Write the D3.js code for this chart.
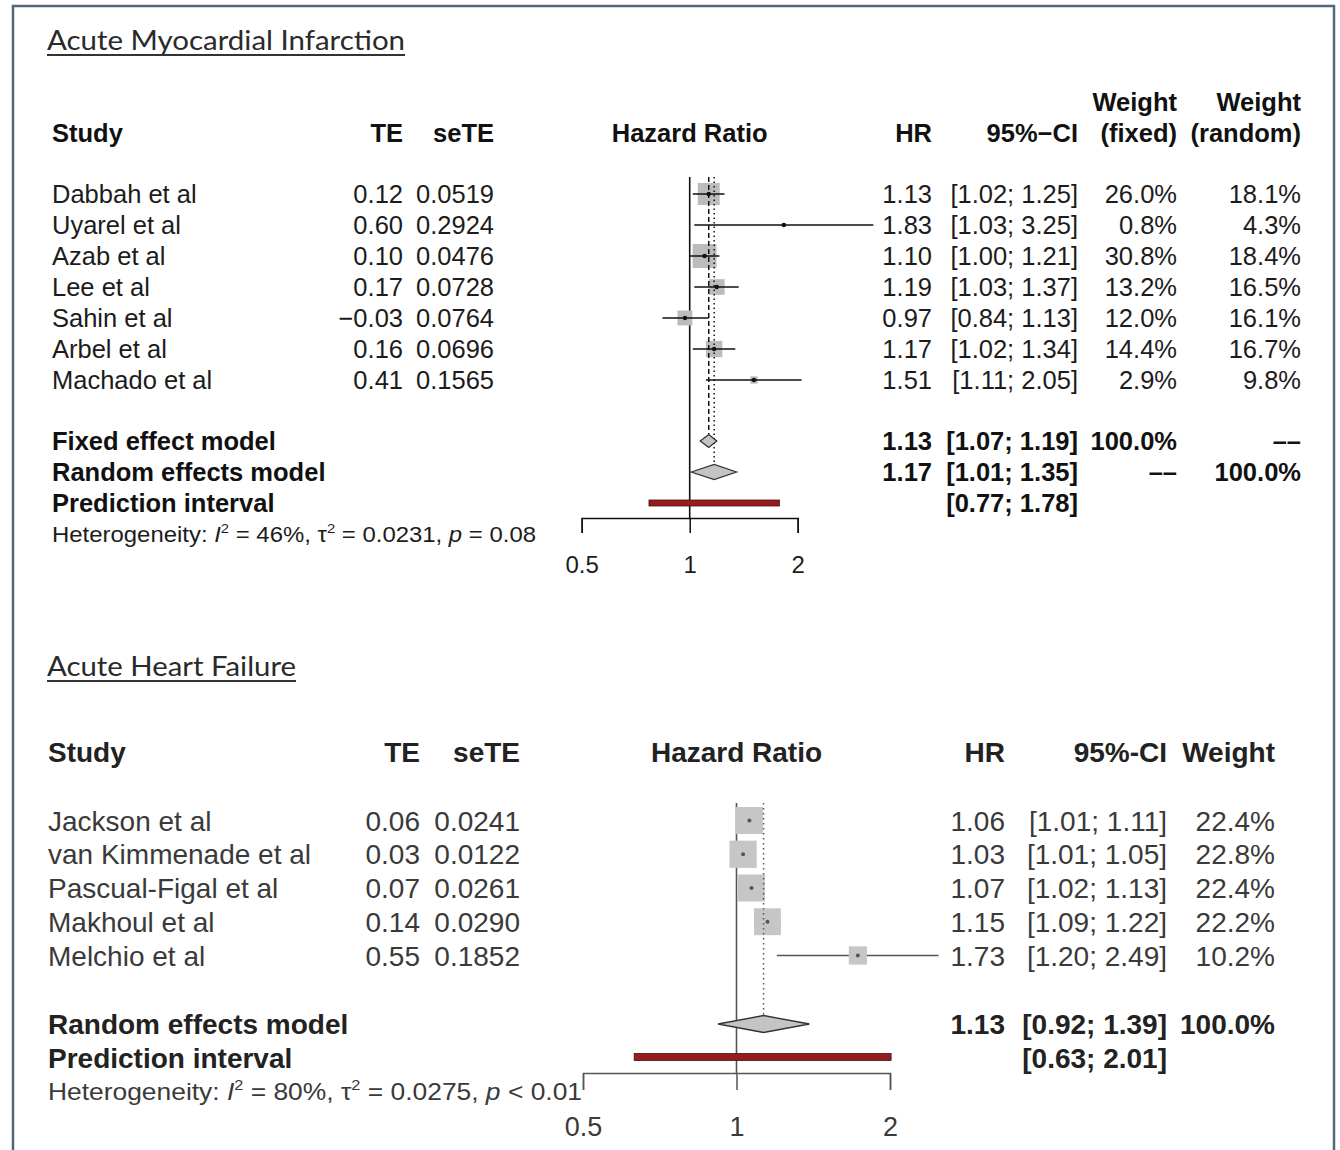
<!DOCTYPE html>
<html>
<head>
<meta charset="utf-8">
<script src="https://cdnjs.cloudflare.com/ajax/libs/d3/7.8.5/d3.min.js"></script>
<style>
body { margin: 0; background: #fff; }
svg text { font-family: "Liberation Sans", Arial, Helvetica, sans-serif; }
svg text.title { font-family: Lato, "Open Sans", sans-serif; }
</style>
</head>
<body>
<svg id="chart" width="1340" height="1150"></svg>
<script>

// ---- data: acute myocardial infarction ----
var amiStudies = ["Dabbah et al", "Uyarel et al", "Azab et al", "Lee et al", "Sahin et al", "Arbel et al", "Machado et al"];
var amiTE = [0.12, 0.60, 0.10, 0.17, -0.03, 0.16, 0.41];
var amiSeTE = [0.0519, 0.2924, 0.0476, 0.0728, 0.0764, 0.0696, 0.1565];
var amiHR = [1.13, 1.83, 1.10, 1.19, 0.97, 1.17, 1.51];
var amiLower = [1.02, 1.03, 1.00, 1.03, 0.84, 1.02, 1.11];
var amiUpper = [1.25, 3.25, 1.21, 1.37, 1.13, 1.34, 2.05];
var amiWFixed = [26.0, 0.8, 30.8, 13.2, 12.0, 14.4, 2.9];
var amiWRandom = [18.1, 4.3, 18.4, 16.5, 16.1, 16.7, 9.8];
var amiFixed = [1.13, 1.07, 1.19];
var amiRandom = [1.17, 1.01, 1.35];
var amiPredict = [0.77, 1.78];
var amiHet = ["46%", "0.0231", "= 0.08"];

// ---- data: acute heart failure ----
var ahfStudies = ["Jackson et al", "van Kimmenade et al", "Pascual-Figal et al", "Makhoul et al", "Melchio et al"];
var ahfTE = [0.06, 0.03, 0.07, 0.14, 0.55];
var ahfSeTE = [0.0241, 0.0122, 0.0261, 0.0290, 0.1852];
var ahfHR = [1.06, 1.03, 1.07, 1.15, 1.73];
var ahfLower = [1.01, 1.01, 1.02, 1.09, 1.20];
var ahfUpper = [1.11, 1.05, 1.13, 1.22, 2.49];
var ahfWeight = [22.4, 22.8, 22.4, 22.2, 10.2];
var ahfRandom = [1.13, 0.92, 1.39];
var ahfPredict = [0.63, 2.01];
var ahfHet = ["80%", "0.0275", "< 0.01"];

var hrTicks = [0.5, 1, 2];

var f2 = d3.format(".2f"), f4 = d3.format(".4f"), f1 = d3.format(".1f");
var ci = function(lo, hi) { return "[" + f2(lo) + "; " + f2(hi) + "]"; };

var svg = d3.select("#chart");

// outer frame (bottom edge runs off the picture)
svg.append("rect")
    .attr("x", 13).attr("y", 6)
    .attr("width", 1321).attr("height", 1170)
    .attr("fill", "none")
    .attr("stroke", "#55657c")
    .attr("stroke-width", 2.5);

var panelAmi = {
    title: "Acute Myocardial Infarction", titleY: 50, titleW: 358, titleX: 47,
    fs: 25.5, color: "#1c1c1c", boldColor: "#111",
    left: 52, headY: 142, rowTop: 194, rowBottom: 380,
    xRange: [581.7, 797.7], axisY: 518, vTop: 177, tickLen: 15, tickPad: 23, tickFs: 24,
    sqK: 4.31, sqColor: "#bcbcbc", lineColor: "#111", lineOnTop: true,
    studies: amiStudies, te: amiTE, se: amiSeTE, hr: amiHR, lo: amiLower, hi: amiUpper,
    w: amiWFixed, w2: amiWRandom,
    cols: { te: 403, se: 494, hr: 932, ci: 1078, w1: 1177, w2: 1301 },
    hetY: 542, hetFs: 22, hetW: 484, het: amiHet
};

var panelAhf = {
    title: "Acute Heart Failure", titleY: 676, titleW: 249, titleX: 47,
    fs: 28, color: "#3a3a3a", boldColor: "#222",
    left: 48, headY: 762, rowTop: 820.5, rowBottom: 955.5,
    xRange: [583, 890], axisY: 1073, vTop: 803, tickLen: 17, tickPad: 27, tickFs: 27,
    sqK: 5.7, sqColor: "#c6c6c6", lineColor: "#555", lineOnTop: false,
    studies: ahfStudies, te: ahfTE, se: ahfSeTE, hr: ahfHR, lo: ahfLower, hi: ahfUpper,
    w: ahfWeight, w2: null,
    cols: { te: 420, se: 520, hr: 1005, ci: 1167, w1: 1275 },
    hetY: 1100, hetFs: 24, hetW: 534, het: ahfHet
};

drawPanel(panelAmi);
drawPanel(panelAhf);

// summary rows, top panel
summaryText(panelAmi, 441, "Fixed effect model", [f2(amiFixed[0]), ci(amiFixed[1], amiFixed[2]), "100.0%", "––"]);
summaryText(panelAmi, 472, "Random effects model", [f2(amiRandom[0]), ci(amiRandom[1], amiRandom[2]), "––", "100.0%"]);
summaryText(panelAmi, 503, "Prediction interval", ["", ci(amiPredict[0], amiPredict[1])]);
// vertical reference lines for pooled estimates
refLine(panelAmi, amiFixed[0], 434, "5,3");
refLine(panelAmi, amiRandom[0], 464, "1.5,3");
diamond(panelAmi, amiFixed, 441, 6.5);
diamond(panelAmi, amiRandom, 472, 7.5);
predBar(panelAmi, amiPredict, 503, 6);
hetText(panelAmi);

// summary rows, bottom panel
summaryText(panelAhf, 1024, "Random effects model", [f2(ahfRandom[0]), ci(ahfRandom[1], ahfRandom[2]), "100.0%"]);
summaryText(panelAhf, 1058, "Prediction interval", ["", ci(ahfPredict[0], ahfPredict[1])]);
refLine(panelAhf, ahfRandom[0], 1015, "1.5,3.5");
diamond(panelAhf, ahfRandom, 1024, 8.5);
predBar(panelAhf, ahfPredict, 1057, 7);
hetText(panelAhf);


function drawPanel(p) {
    var g = svg.append("g");
    p.g = g;
    p.x = d3.scaleLog().domain([0.5, 2]).range(p.xRange);
    var y = d3.scaleLinear().domain([0, p.studies.length - 1]).range([p.rowTop, p.rowBottom]);
    var x = p.x;
    var base = p.fs * 0.36;

    // underlined title
    g.append("text").attr("class", "title")
        .attr("x", p.titleX).attr("y", p.titleY)
        .attr("textLength", p.titleW).attr("lengthAdjust", "spacingAndGlyphs")
        .style("font-size", "26px").style("fill", "#2a2a2a")
        .text(p.title);
    g.append("line")
        .attr("x1", p.titleX).attr("x2", p.titleX + p.titleW)
        .attr("y1", p.titleY + 5).attr("y2", p.titleY + 5)
        .attr("stroke", "#333").attr("stroke-width", 1.8);

    // column headers
    var head = g.append("g").style("font-size", p.fs + "px").style("font-weight", "bold").style("fill", p.boldColor);
    head.append("text").attr("x", p.left).attr("y", p.headY).text("Study");
    head.append("text").attr("x", p.cols.te).attr("y", p.headY).attr("text-anchor", "end").text("TE");
    head.append("text").attr("x", p.cols.se).attr("y", p.headY).attr("text-anchor", "end").text("seTE");
    head.append("text").attr("x", x(1)).attr("y", p.headY).attr("text-anchor", "middle").text("Hazard Ratio");
    head.append("text").attr("x", p.cols.hr).attr("y", p.headY).attr("text-anchor", "end").text("HR");
    if (p.w2) {
        head.append("text").attr("x", p.cols.ci).attr("y", p.headY).attr("text-anchor", "end").text("95%−CI");
        head.append("text").attr("x", p.cols.w1).attr("y", p.headY - 31).attr("text-anchor", "end").text("Weight");
        head.append("text").attr("x", p.cols.w1).attr("y", p.headY).attr("text-anchor", "end").text("(fixed)");
        head.append("text").attr("x", p.cols.w2).attr("y", p.headY - 31).attr("text-anchor", "end").text("Weight");
        head.append("text").attr("x", p.cols.w2).attr("y", p.headY).attr("text-anchor", "end").text("(random)");
    } else {
        head.append("text").attr("x", p.cols.ci).attr("y", p.headY).attr("text-anchor", "end").text("95%-CI");
        head.append("text").attr("x", p.cols.w1).attr("y", p.headY).attr("text-anchor", "end").text("Weight");
    }

    // study rows
    var rows = g.append("g").style("font-size", p.fs + "px").style("fill", p.color)
        .selectAll("g").data(p.studies).enter().append("g");
    rows.append("text").attr("x", p.left).attr("y", (d, i) => y(i) + base).text(d => d);
    rows.append("text").attr("x", p.cols.te).attr("y", (d, i) => y(i) + base).attr("text-anchor", "end").text((d, i) => f2(p.te[i]));
    rows.append("text").attr("x", p.cols.se).attr("y", (d, i) => y(i) + base).attr("text-anchor", "end").text((d, i) => f4(p.se[i]));
    rows.append("text").attr("x", p.cols.hr).attr("y", (d, i) => y(i) + base).attr("text-anchor", "end").text((d, i) => f2(p.hr[i]));
    rows.append("text").attr("x", p.cols.ci).attr("y", (d, i) => y(i) + base).attr("text-anchor", "end").text((d, i) => ci(p.lo[i], p.hi[i]));
    rows.append("text").attr("x", p.cols.w1).attr("y", (d, i) => y(i) + base).attr("text-anchor", "end").text((d, i) => f1(p.w[i]) + "%");
    if (p.w2) {
        rows.append("text").attr("x", p.cols.w2).attr("y", (d, i) => y(i) + base).attr("text-anchor", "end").text((d, i) => f1(p.w2[i]) + "%");
    }

    // axis with end brackets
    var axis = d3.axisBottom(x).tickValues(hrTicks).tickFormat(d3.format(""))
        .tickSize(p.tickLen).tickSizeOuter(p.tickLen).tickPadding(p.tickPad);
    var ax = g.append("g").attr("transform", "translate(0," + p.axisY + ")").call(axis);
    ax.selectAll("path, line").attr("stroke", p.lineColor).attr("stroke-width", 1.5);
    ax.selectAll("text").style("font-size", p.tickFs + "px").style("font-family", "'Liberation Sans', Arial, sans-serif")
        .attr("fill", p.color);

    // null line at HR = 1
    g.append("line")
        .attr("x1", x(1)).attr("x2", x(1))
        .attr("y1", p.vTop).attr("y2", p.axisY)
        .attr("stroke", p.lineColor).attr("stroke-width", 1.6);

    // squares, confidence lines, point estimates
    var marks = g.append("g").selectAll("g").data(p.studies).enter().append("g");
    var side = (d, i) => p.sqK * Math.sqrt(p.w[i]);
    var drawLine = function(sel) {
        sel.append("line")
            .attr("x1", (d, i) => x(p.lo[i])).attr("x2", (d, i) => x(p.hi[i]))
            .attr("y1", (d, i) => y(i)).attr("y2", (d, i) => y(i))
            .attr("stroke", p.lineColor).attr("stroke-width", 1.5);
    };
    if (!p.lineOnTop) drawLine(marks);
    marks.append("rect")
        .attr("x", (d, i) => x(p.hr[i]) - side(d, i) / 2)
        .attr("y", (d, i) => y(i) - side(d, i) / 2)
        .attr("width", side)
        .attr("height", side)
        .attr("fill", p.sqColor);
    if (p.lineOnTop) drawLine(marks);
    marks.append("circle")
        .attr("cx", (d, i) => x(p.hr[i])).attr("cy", (d, i) => y(i))
        .attr("r", p.lineOnTop ? 2.2 : 2)
        .attr("fill", p.lineOnTop ? "#111" : "#555");
}

function summaryText(p, yc, label, vals) {
    var g = p.g.append("g").style("font-size", p.fs + "px").style("font-weight", "bold").style("fill", p.boldColor);
    var yb = yc + p.fs * 0.36;
    g.append("text").attr("x", p.left).attr("y", yb).text(label);
    var xs = [p.cols.hr, p.cols.ci, p.cols.w1, p.cols.w2];
    vals.forEach(function(v, i) {
        if (v) g.append("text").attr("x", xs[i]).attr("y", yb).attr("text-anchor", "end").text(v);
    });
}

function refLine(p, v, y2, dash) {
    p.g.append("line")
        .attr("x1", p.x(v)).attr("x2", p.x(v))
        .attr("y1", p.vTop).attr("y2", y2)
        .attr("stroke", p.lineColor).attr("stroke-width", 1.5)
        .attr("stroke-dasharray", dash);
}

function diamond(p, est, yc, h) {
    var pts = [[p.x(est[1]), yc], [p.x(est[0]), yc - h], [p.x(est[2]), yc], [p.x(est[0]), yc + h]];
    p.g.append("path")
        .attr("d", d3.line()(pts) + "Z")
        .attr("fill", "#c4c4c4")
        .attr("stroke", "#333").attr("stroke-width", 1.3);
}

function predBar(p, pi, yc, h) {
    p.g.append("rect")
        .attr("x", p.x(pi[0])).attr("y", yc - h / 2)
        .attr("width", p.x(pi[1]) - p.x(pi[0])).attr("height", h)
        .attr("fill", "#961c20")
        .attr("stroke", "#4a1010").attr("stroke-width", 0.8);
}

function hetText(p) {
    var s = p.hetFs, up = s * 0.42;
    var t = p.g.append("text").attr("x", p.left).attr("y", p.hetY)
        .attr("textLength", p.hetW).attr("lengthAdjust", "spacingAndGlyphs")
        .style("font-size", s + "px").style("fill", p.color);
    t.append("tspan").text("Heterogeneity: ");
    t.append("tspan").style("font-style", "italic").text("I");
    t.append("tspan").attr("dy", -up).style("font-size", (s * 0.62) + "px").text("2");
    t.append("tspan").attr("dy", up).text(" = " + p.het[0] + ", τ");
    t.append("tspan").attr("dy", -up).style("font-size", (s * 0.62) + "px").text("2");
    t.append("tspan").attr("dy", up).text(" = " + p.het[1] + ", ");
    t.append("tspan").style("font-style", "italic").text("p");
    t.append("tspan").text(" " + p.het[2]);
}
</script>
</body>
</html>
